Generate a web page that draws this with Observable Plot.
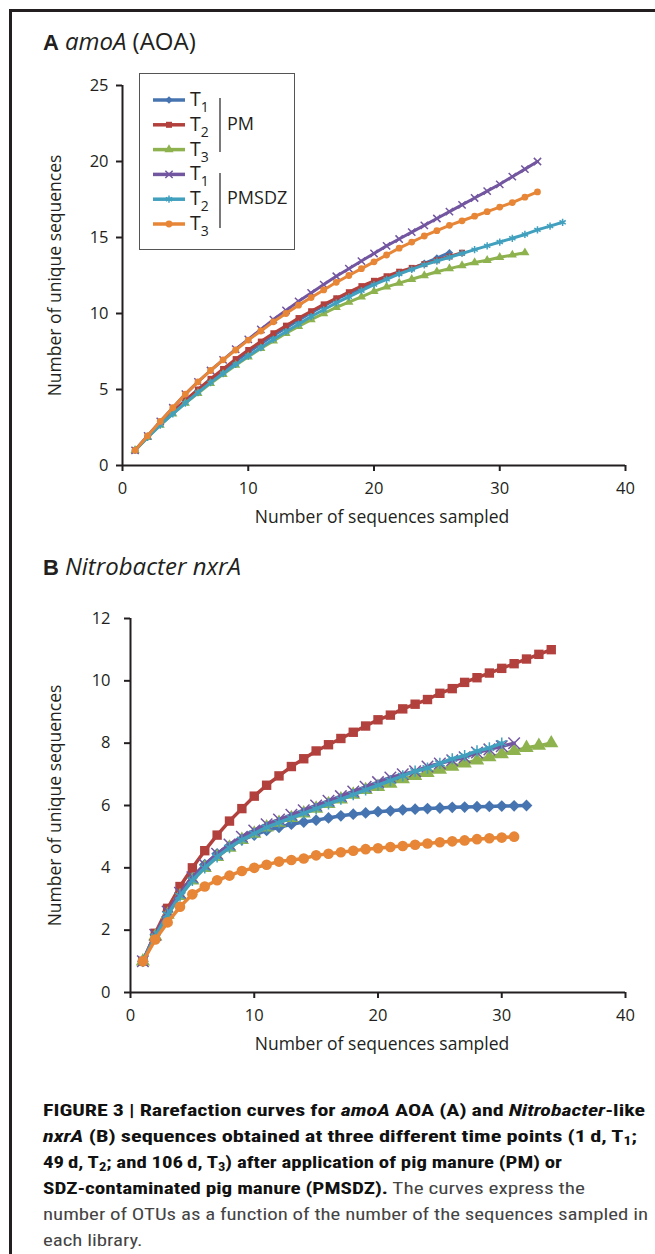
<!DOCTYPE html>
<html><head><meta charset="utf-8">
<script src="https://cdn.jsdelivr.net/npm/d3@7"></script>
<script src="https://cdn.jsdelivr.net/npm/@observablehq/plot@0.6"></script>
<style>
html,body{margin:0;padding:0;background:#fff;}
#page{position:relative;width:655px;height:1254px;overflow:hidden;font-family:"Open Sans",sans-serif;color:#231f20;background:#fff;}
#frameL{position:absolute;left:9px;top:9px;width:3px;height:1245px;background:#231f20;}
#frameT{position:absolute;left:9px;top:9px;width:646px;height:3px;background:#231f20;}
.ptitle{position:absolute;left:43px;font-size:24px;white-space:nowrap;line-height:1;}
.ptitle b{font-family:"Liberation Sans",Arial,sans-serif;font-weight:bold;font-size:22px;margin-right:6px;}
#plotA{position:absolute;left:0;top:60px;}
#plotB{position:absolute;left:0;top:595px;}
#legend{position:absolute;left:139px;top:73px;}
#caption{position:absolute;left:43px;top:1097px;font-family:"Liberation Sans Narrow","Roboto Condensed","Liberation Sans",Arial,sans-serif;font-size:17px;line-height:26px;color:#444;white-space:nowrap;}
#caption b{color:#111;}
#caption sub{font-size:70%;line-height:0;vertical-align:-0.25em;}
.cl span{display:inline-block;transform-origin:0 50%;}
</style>
</head><body>
<div id="page">
  <div id="frameL"></div><div id="frameT"></div>
  <div class="ptitle" style="top:29px;"><b>A</b><i>amoA</i> (AOA)</div>
  <div id="plotA"></div>
  <div id="legend"></div>
  <div class="ptitle" style="top:554px;"><b>B</b><i>Nitrobacter nxrA</i></div>
  <div id="plotB"></div>
  <div id="caption">
    <div class="cl"><span><b>FIGURE 3 | Rarefaction curves for <i>amoA</i> AOA (A) and <i>Nitrobacter</i>-like</b></span></div>
    <div class="cl"><span><b><i>nxrA</i> (B) sequences obtained at three different time points (1&#8201;d, T<sub>1</sub>;</b></span></div>
    <div class="cl"><span><b>49&#8201;d, T<sub>2</sub>; and 106&#8201;d, T<sub>3</sub>) after application of pig manure (PM) or</b></span></div>
    <div class="cl"><span><b>SDZ-contaminated pig manure (PMSDZ).</b> The curves express the</span></div>
    <div class="cl"><span>number of OTUs as a function of the number of the sequences sampled in</span></div>
    <div class="cl"><span>each library.</span></div>
  </div>
</div>
<script>
// ---- Data: number of unique sequences at 1,2,3,... sequences sampled ----
// Panel A: amoA (AOA)
const amoA_PM_T1    = [1,1.9,2.75,3.5,4.25,4.95,5.6,6.25,6.85,7.45,8.0,8.55,9.05,9.55,10.05,10.5,10.95,11.3,11.65,12.0,12.35,12.65,12.95,13.3,13.65,14.0];
const amoA_PM_T2    = [1,1.9,2.75,3.55,4.3,5.0,5.7,6.35,7.0,7.6,8.15,8.7,9.2,9.7,10.15,10.6,11.0,11.4,11.8,12.15,12.45,12.75,13.0,13.25,13.5,13.75,14.0];
const amoA_PM_T3    = [1,1.85,2.65,3.4,4.1,4.75,5.4,6.0,6.6,7.15,7.7,8.2,8.7,9.15,9.6,10.0,10.4,10.75,11.1,11.45,11.75,12.0,12.25,12.5,12.75,12.95,13.15,13.35,13.5,13.7,13.85,14.0];
const amoA_PMSDZ_T1 = [1,1.95,2.9,3.8,4.7,5.5,6.25,6.95,7.65,8.3,8.95,9.6,10.2,10.8,11.35,11.9,12.45,12.95,13.45,13.95,14.45,14.9,15.35,15.8,16.25,16.7,17.15,17.6,18.05,18.5,19.0,19.5,20.0];
const amoA_PMSDZ_T2 = [1,1.85,2.65,3.4,4.1,4.8,5.45,6.05,6.65,7.2,7.75,8.3,8.8,9.3,9.8,10.25,10.7,11.1,11.5,11.9,12.25,12.6,12.9,13.2,13.45,13.7,13.95,14.2,14.45,14.7,14.95,15.2,15.5,15.75,16.0];
const amoA_PMSDZ_T3 = [1,1.95,2.9,3.8,4.7,5.5,6.25,6.95,7.6,8.25,8.85,9.45,10.0,10.55,11.05,11.55,12.05,12.5,12.95,13.4,13.85,14.3,14.7,15.1,15.45,15.8,16.1,16.4,16.7,17.0,17.3,17.65,18.0];
// Panel B: Nitrobacter nxrA
const nxrA_PM_T1    = [1,1.85,2.6,3.2,3.7,4.1,4.45,4.7,4.9,5.05,5.2,5.3,5.4,5.47,5.53,5.6,5.67,5.72,5.76,5.8,5.83,5.86,5.88,5.9,5.92,5.94,5.95,5.96,5.97,5.98,5.99,6.0];
const nxrA_PM_T2    = [1,1.9,2.7,3.4,4.0,4.55,5.05,5.5,5.9,6.3,6.65,6.95,7.25,7.5,7.75,7.95,8.15,8.35,8.55,8.75,8.9,9.1,9.25,9.4,9.6,9.75,9.95,10.1,10.25,10.4,10.55,10.7,10.85,11.0];
const nxrA_PM_T3    = [1,1.8,2.5,3.1,3.6,4.0,4.35,4.65,4.9,5.1,5.3,5.45,5.6,5.75,5.9,6.05,6.2,6.35,6.5,6.6,6.7,6.85,6.95,7.05,7.15,7.25,7.35,7.45,7.55,7.65,7.75,7.85,7.92,8.0];
const nxrA_PMSDZ_T1 = [1,1.85,2.6,3.2,3.7,4.1,4.45,4.75,5.0,5.2,5.4,5.55,5.7,5.85,6.0,6.15,6.3,6.45,6.6,6.75,6.9,7.0,7.1,7.25,7.35,7.45,7.55,7.7,7.8,7.9,8.0];
const nxrA_PMSDZ_T2 = [1,1.8,2.5,3.1,3.6,4.0,4.35,4.65,4.9,5.1,5.3,5.45,5.6,5.75,5.9,6.05,6.2,6.35,6.5,6.65,6.8,6.95,7.1,7.2,7.35,7.5,7.6,7.75,7.85,8.0];
const nxrA_PMSDZ_T3 = [1,1.7,2.25,2.75,3.15,3.4,3.6,3.75,3.9,4.0,4.1,4.2,4.25,4.3,4.4,4.45,4.5,4.55,4.6,4.63,4.67,4.7,4.74,4.78,4.82,4.85,4.88,4.92,4.95,4.97,5.0];

const seriesLabels = ["1","2","3","1","2","3"];           // T subscripts
const groupLabels  = ["PM","PMSDZ"];
const colors  = ["#4674B0","#B2413D","#8DB24E","#7356A0","#41A0BE","#E68636"];
const symbols = ["diamond2","square","triangle","times","asterisk","circle"];
const strokeSymbols = new Set(["times","asterisk"]);
const xTicks = [0,10,20,30,40];
const yTicksA = [0,5,10,15,20,25];
const yTicksB = [0,2,4,6,8,10,12];
const captionWidths = [602,594,519,542,605,null];

const toRows = (arr) => arr.map((v,i)=>({x:i+1,y:v}));

function seriesMarks(list, r, lw){
  const marks = [];
  list.forEach((arr,k)=>{
    const rows = toRows(arr);
    marks.push(Plot.line(rows,{x:"x",y:"y",stroke:colors[k],strokeWidth:lw}));
    const st = strokeSymbols.has(symbols[k]);
    marks.push(Plot.dot(rows,{x:"x",y:"y",r:r,symbol:()=>symbols[k],
      fill: st ? "none" : colors[k], stroke: st ? colors[k] : "none", strokeWidth: st ? 1.5 : 0}));
  });
  return marks;
}

function panel(list, yDomain, yTicks, opts){
  return Plot.plot({
    width:655, height:opts.height,
    marginTop:opts.mt, marginLeft:opts.ml, marginRight:30, marginBottom:70,
    style:{fontFamily:"'Open Sans',sans-serif",fontSize:"16px",color:"#231f20",background:"transparent",overflow:"visible"},
    x:{domain:[0,40]},
    y:{domain:yDomain},
    symbol:{type:"identity"},
    marks:[
      ...seriesMarks(list, opts.r, opts.lw),
      Plot.axisX({ticks:xTicks, tickSize:6, tickPadding:11, strokeWidth:2, label:null, fontSize:16.5}),
      Plot.axisY({ticks:yTicks, tickSize:6, tickPadding:opts.ypad, strokeWidth:2, label:null, fontSize:16.5}),
      Plot.ruleX([0],{strokeWidth:2, stroke:"#231f20"}),
      Plot.ruleY([0],{strokeWidth:2, stroke:"#231f20"}),
      Plot.text(["Number of sequences sampled"],{frameAnchor:"bottom",dx:opts.xdx,dy:57,fontSize:17.5,fill:"#231f20"}),
      Plot.text(["Number of unique sequences"],{frameAnchor:"left",textAnchor:"middle",dx:-(opts.ml-55),rotate:-90,fontSize:17.5,fill:"#231f20"})
    ]
  });
}

document.getElementById("plotA").append(panel(
  [amoA_PM_T1,amoA_PM_T2,amoA_PM_T3,amoA_PMSDZ_T1,amoA_PMSDZ_T2,amoA_PMSDZ_T3],
  [0,25], yTicksA, {height:475, mt:25, ml:122, r:3.4, lw:3, xdx:8, ypad:8}));

document.getElementById("plotB").append(panel(
  [nxrA_PM_T1,nxrA_PM_T2,nxrA_PM_T3,nxrA_PMSDZ_T1,nxrA_PMSDZ_T2,nxrA_PMSDZ_T3],
  [0,12], yTicksB, {height:467, mt:23, ml:130, r:5.3, lw:3.5, xdx:4, ypad:14}));

// ---- Legend (panel A) ----
(function(){
  const W=156,H=177;
  const svg=d3.select("#legend").append("svg").attr("width",W).attr("height",H)
    .style("font-family","'Open Sans',sans-serif").style("overflow","visible");
  svg.append("rect").attr("x",0.5).attr("y",0.5).attr("width",W-1).attr("height",H-1)
    .attr("fill","#fff").attr("stroke","#555").attr("stroke-width",1);
  const symMap={diamond2:d3.symbolDiamond2,square:d3.symbolSquare,triangle:d3.symbolTriangle,
    times:d3.symbolTimes,asterisk:d3.symbolAsterisk,circle:d3.symbolCircle};
  seriesLabels.forEach((lab,i)=>{
    const y=27+i*24.8;
    const g=svg.append("g");
    g.append("line").attr("x1",14).attr("x2",46).attr("y1",y).attr("y2",y)
      .attr("stroke",colors[i]).attr("stroke-width",3.5);
    const st=strokeSymbols.has(symbols[i]);
    g.append("path").attr("transform",`translate(30,${y})`)
      .attr("d",d3.symbol(symMap[symbols[i]],Math.PI*3.4*3.4)())
      .attr("fill",st?"none":colors[i]).attr("stroke",st?colors[i]:"none").attr("stroke-width",1.5);
    const t=g.append("text").attr("x",51).attr("y",y+6).attr("font-size",19.5).attr("fill","#231f20").text("T");
    t.append("tspan").attr("dy",6).attr("font-size",14).text(lab);
  });
  svg.append("line").attr("x1",81).attr("x2",81).attr("y1",25).attr("y2",79).attr("stroke","#231f20").attr("stroke-width",1.2);
  svg.append("line").attr("x1",81).attr("x2",81).attr("y1",100).attr("y2",155).attr("stroke","#231f20").attr("stroke-width",1.2);
  svg.append("text").attr("x",88).attr("y",57).attr("font-size",18).attr("fill","#231f20").text(groupLabels[0]);
  svg.append("text").attr("x",88).attr("y",131).attr("font-size",18).attr("fill","#231f20").text(groupLabels[1]);
})();

// ---- Fit caption lines to their widths (last line uses the scale of the line above) ----
(function(){
  const spans=[...document.querySelectorAll("#caption .cl span")];
  let last=1;
  spans.forEach((sp,i)=>{
    const w=sp.getBoundingClientRect().width;
    const s=captionWidths[i]==null ? last : captionWidths[i]/w;
    sp.style.transform=`scaleX(${s})`;
    last=s;
  });
})();
</script>
</body></html>
